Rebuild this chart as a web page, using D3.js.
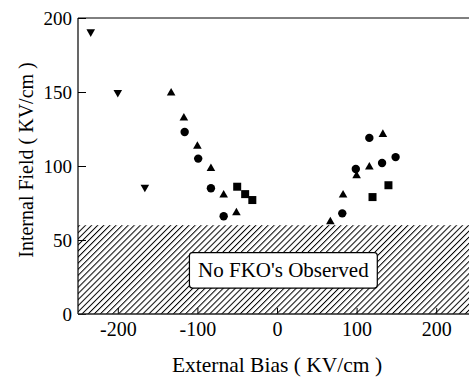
<!DOCTYPE html>
<html>
<head>
<meta charset="utf-8">
<script src="https://cdn.jsdelivr.net/npm/d3@7"></script>
<style>
  html, body { margin: 0; padding: 0; background: #fff; }
  svg { display: block; }
  svg text { font-family: "Liberation Serif", "DejaVu Serif", serif !important; fill: #000; }
</style>
</head>
<body>
<svg id="chart" width="469" height="377"></svg>
<script>
// ---- data ----
const downTriX = [-234, -200, -166];
const downTriY = [190, 149, 85];

const upTriX = [-133, -117, -100, -83, -67, -51, 67, 83, 100, 116, 133];
const upTriY = [150, 133, 114, 99, 81, 69, 63, 81, 94, 100, 122];

const circleX = [-116, -99, -83, -67, 82, 99, 116, 132, 149];
const circleY = [123, 105, 85, 66, 68, 98, 119, 102, 106];

const squareX = [-50, -40, -31, 120, 140];
const squareY = [86, 81, 77, 79, 87];

const xTicks = [-200, -100, 0, 100, 200];
const yTicks = [0, 50, 100, 150, 200];
const noFkoLevel = 60;
const boxLabel = "No FKO's Observed";
const xTitle = "External Bias ( KV/cm )";
const yTitle = "Internal Field ( KV/cm )";

(function () {
const FONT = '"Liberation Serif", "DejaVu Serif", serif';
// ---- layout ----
const svg = d3.select("#chart");
const pLeft = 78, pRight = 476, pTop = 18, pBottom = 314;
const x = d3.scaleLinear().domain([-250, 250]).range([pLeft, pRight]);
const y = d3.scaleLinear().domain([0, 200]).range([pBottom, pTop]);

// hatch pattern
const defs = svg.append("defs");
const pat = defs.append("pattern")
  .attr("id", "hatch")
  .attr("patternUnits", "userSpaceOnUse")
  .attr("width", 4.3).attr("height", 4.3)
  .attr("patternTransform", "rotate(45)");
pat.append("rect")
  .attr("x", 0).attr("y", 0).attr("width", 1.0).attr("height", 4.3)
  .attr("fill", "#000");

// hatched region
svg.append("rect")
  .attr("x", x(-250)).attr("y", y(noFkoLevel))
  .attr("width", x(250) - x(-250))
  .attr("height", y(0) - y(noFkoLevel))
  .attr("fill", "url(#hatch)");

// label box
const boxX0 = x(-110), boxX1 = x(126);
const boxY0 = y(41.5), boxY1 = y(17.5);
svg.append("rect")
  .attr("x", boxX0).attr("y", boxY0)
  .attr("width", boxX1 - boxX0).attr("height", boxY1 - boxY0)
  .attr("rx", 3).attr("ry", 3)
  .attr("fill", "#fff").attr("stroke", "#000").attr("stroke-width", 1.2);
svg.append("text")
  .attr("x", (boxX0 + boxX1) / 2).attr("y", (boxY0 + boxY1) / 2 + 7)
  .attr("text-anchor", "middle")
  .attr("font-family", FONT)
  .attr("font-size", 21)
  .text(boxLabel);

// axes
const yAxis = d3.axisLeft(y).tickValues(yTicks).tickSize(-8).tickPadding(6).tickFormat(d3.format("d"));
const xAxis = d3.axisBottom(x).tickValues(xTicks).tickSize(-6).tickPadding(8).tickFormat(d3.format("d"));

const gy = svg.append("g").attr("transform", `translate(${pLeft},0)`).call(yAxis);
const gx = svg.append("g").attr("transform", `translate(0,${pBottom})`).call(xAxis);
gy.attr("font-family", FONT).attr("font-size", 19);
gx.attr("font-family", FONT).attr("font-size", 20);
[gx, gy].forEach(g => {
  g.select(".domain").remove();
  g.selectAll(".tick line").attr("stroke", "#000").attr("stroke-width", 1);
  g.selectAll(".tick text").attr("fill", "#000");
});
gx.selectAll(".tick text").text(d => String(d));

// frame lines
svg.append("line").attr("x1", pLeft).attr("y1", pTop).attr("x2", pLeft).attr("y2", pBottom)
  .attr("stroke", "#000").attr("stroke-width", 1.2);
svg.append("line").attr("x1", pLeft).attr("y1", pBottom).attr("x2", pRight).attr("y2", pBottom)
  .attr("stroke", "#222").attr("stroke-width", 1.6);
svg.append("line").attr("x1", pLeft).attr("y1", pTop).attr("x2", pRight).attr("y2", pTop)
  .attr("stroke", "#000").attr("stroke-width", 1);

// markers
const tri = 4.3;
svg.append("g").selectAll("path").data(downTriX.map((d, i) => [d, downTriY[i]])).join("path")
  .attr("d", d => `M${x(d[0]) - tri},${y(d[1]) - tri * 0.8}L${x(d[0]) + tri},${y(d[1]) - tri * 0.8}L${x(d[0])},${y(d[1]) + tri * 0.95}Z`)
  .attr("fill", "#000");
svg.append("g").selectAll("path").data(upTriX.map((d, i) => [d, upTriY[i]])).join("path")
  .attr("d", d => `M${x(d[0]) - tri},${y(d[1]) + tri * 0.8}L${x(d[0]) + tri},${y(d[1]) + tri * 0.8}L${x(d[0])},${y(d[1]) - tri * 0.95}Z`)
  .attr("fill", "#000");
svg.append("g").selectAll("circle").data(circleX.map((d, i) => [d, circleY[i]])).join("circle")
  .attr("cx", d => x(d[0])).attr("cy", d => y(d[1])).attr("r", 4.2)
  .attr("fill", "#000");
const sq = 4;
svg.append("g").selectAll("rect").data(squareX.map((d, i) => [d, squareY[i]])).join("rect")
  .attr("x", d => x(d[0]) - sq).attr("y", d => y(d[1]) - sq)
  .attr("width", sq * 2).attr("height", sq * 2)
  .attr("fill", "#000");

// titles
svg.append("text")
  .attr("x", x(0)).attr("y", 372)
  .attr("text-anchor", "middle").attr("font-size", 21.5)
  .attr("font-family", FONT)
  .text(xTitle);
svg.append("text")
  .attr("transform", `translate(33,160) rotate(-90)`)
  .attr("text-anchor", "middle").attr("font-size", 20)
  .attr("font-family", FONT)
  .text(yTitle);
})();
</script>
</body>
</html>
